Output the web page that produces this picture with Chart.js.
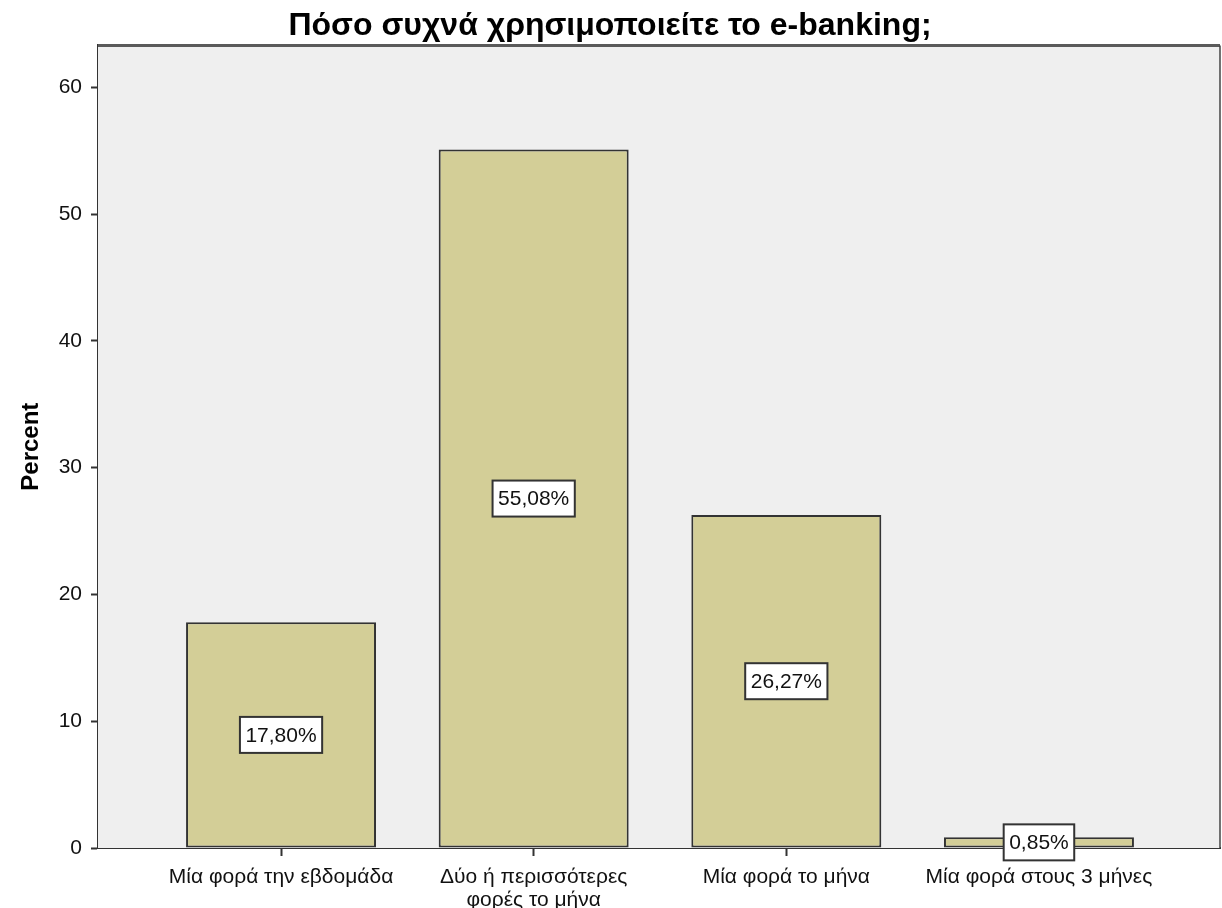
<!DOCTYPE html>
<html>
<head>
<meta charset="utf-8">
<script src="https://cdn.jsdelivr.net/npm/chart.js@4.4.0/dist/chart.umd.min.js"></script>
<style>
html,body{margin:0;padding:0;background:#fff;}
#wrap{width:1222px;height:908px;}
</style>
</head>
<body>
<div id="wrap"><canvas id="c" width="1222" height="908"></canvas></div>
<script>
const titleText = 'Πόσο συχνά χρησιμοποιείτε το e-banking;';
const yTitle = 'Percent';
const categories = [
  'Μία φορά την εβδομάδα',
  ['Δύο ή περισσότερες', 'φορές το μήνα'],
  'Μία φορά το μήνα',
  'Μία φορά στους 3 μήνες'
];
const percentValues = [17.80, 55.08, 26.27, 0.85];
const valueLabels = ['17,80%', '55,08%', '26,27%', '0,85%'];
const yTicks = [0, 10, 20, 30, 40, 50, 60];

const FONT = "'Liberation Sans', Arial, sans-serif";

const plotDecor = {
  id: 'plotDecor',
  beforeDatasetsDraw(chart) {
    const {ctx, chartArea: a} = chart;
    ctx.save();
    ctx.fillStyle = '#efefef';
    ctx.fillRect(a.left, a.top, a.right - a.left, a.bottom - a.top);
    ctx.restore();
  },
  afterDraw(chart) {
    const {ctx, chartArea: a} = chart;
    ctx.save();
    ctx.strokeStyle = '#5a5a5a';
    ctx.lineWidth = 3;
    ctx.beginPath();
    ctx.moveTo(a.left, a.top);
    ctx.lineTo(a.right, a.top);
    ctx.stroke();
    ctx.lineWidth = 1.5;
    ctx.strokeStyle = '#444';
    ctx.beginPath();
    ctx.moveTo(a.right, a.top);
    ctx.lineTo(a.right, a.bottom);
    ctx.stroke();
    // value boxes
    const meta = chart.getDatasetMeta(0);
    ctx.font = '21px ' + FONT;
    ctx.textAlign = 'center';
    ctx.textBaseline = 'middle';
    meta.data.forEach((bar, i) => {
      const cx = bar.x;
      const cy = (bar.y + bar.base) / 2;
      const txt = valueLabels[i];
      const w = ctx.measureText(txt).width + 11;
      const h = 36;
      ctx.fillStyle = '#ffffff';
      ctx.fillRect(cx - w / 2, cy - h / 2, w, h);
      ctx.strokeStyle = '#333';
      ctx.lineWidth = 2;
      ctx.strokeRect(cx - w / 2, cy - h / 2, w, h);
      ctx.fillStyle = '#111';
      ctx.fillText(txt, cx, cy + 1);
    });
    ctx.restore();
  }
};

new Chart(document.getElementById('c'), {
  type: 'bar',
  data: {
    datasets: [{
      data: percentValues.map((v, i) => ({x: i, y: v})),
      backgroundColor: '#d3ce97',
      borderColor: '#333333',
      borderWidth: 2,
      borderSkipped: false,
      barPercentage: 0.752,
      categoryPercentage: 1.0
    }]
  },
  options: {
    responsive: false,
    animation: false,
    devicePixelRatio: 1,
    layout: {padding: {left: 0, right: 2, top: 0, bottom: 0}},
    plugins: {
      legend: {display: false},
      tooltip: {enabled: false},
      title: {
        display: true,
        text: titleText,
        color: '#000',
        font: {family: FONT, size: 32, weight: 'bold', lineHeight: 1.2},
        padding: {top: 7, bottom: 0}
      }
    },
    scales: {
      x: {
        type: 'linear',
        offset: false,
        min: -0.7245,
        max: 3.7166,
        afterBuildTicks(scale) {
          scale.ticks = categories.map((c, i) => ({value: i}));
        },
        afterFit(scale) { scale.height = 60; },
        ticks: {
          autoSkip: false,
          maxRotation: 0,
          padding: 10,
          color: '#111',
          font: {family: FONT, size: 21, lineHeight: 1.1},
          callback: (v) => categories[v]
        },
        grid: {
          display: true,
          offset: false,
          drawOnChartArea: false,
          drawTicks: true,
          tickLength: 8,
          tickColor: '#333',
          tickWidth: 2
        },
        border: {display: true, color: '#333', width: 2}
      },
      y: {
        type: 'linear',
        min: 0,
        max: 63.3,
        afterBuildTicks(scale) {
          scale.ticks = yTicks.map(v => ({value: v}));
        },
        afterFit(scale) { scale.width = 98; },
        ticks: {
          padding: 9,
          color: '#111',
          font: {family: FONT, size: 21}
        },
        grid: {
          display: true,
          drawOnChartArea: false,
          drawTicks: true,
          tickLength: 7,
          tickColor: '#333',
          tickWidth: 2
        },
        border: {display: true, color: '#333', width: 2},
        title: {
          display: true,
          text: yTitle,
          color: '#000',
          font: {family: FONT, size: 24, weight: 'bold'},
          padding: {top: 17, bottom: 0}
        }
      }
    }
  },
  plugins: [plotDecor]
});
</script>
</body>
</html>
